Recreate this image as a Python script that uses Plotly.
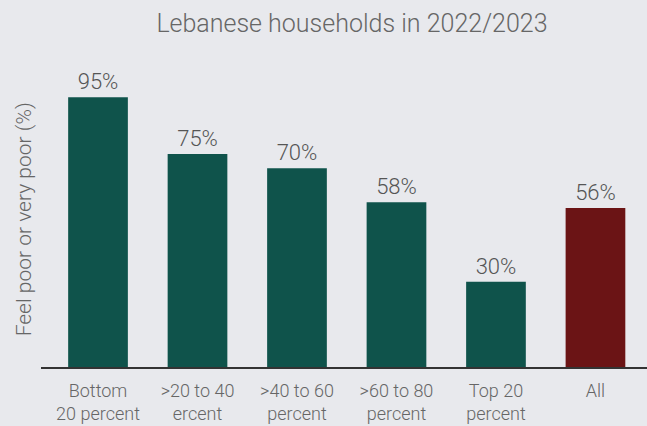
import plotly.graph_objects as go

# data
categories = ["Bottom<br>20 percent", ">20 to 40<br>ercent", ">40 to 60<br>percent",
              ">60 to 80<br>percent", "Top 20<br>percent", "All"]
values = [95, 75, 70, 58, 30, 56]
bar_colors = ["#0f534b"] * 5 + ["#6b1415"]

fig = go.Figure(go.Bar(
    x=list(range(len(categories))),
    y=values,
    marker=dict(color=bar_colors, line=dict(width=0)),
    text=[f"{v}%" for v in values],
    textposition="outside",
    cliponaxis=False,
    textfont=dict(size=22, color="#555555", weight=300),
    width=0.6,
))

fig.update_layout(
    width=647, height=426,
    paper_bgcolor="#e8e9ed", plot_bgcolor="#e8e9ed",
    margin=dict(l=41, r=0, t=83, b=59),
    font=dict(family="Roboto", color="#666666"),
    showlegend=False,
    title=dict(text="Lebanese households in 2022/2023", x=0.544, xanchor="center",
               y=0.945, yanchor="middle",
               font=dict(size=25, color="#666666", weight=300)),
    annotations=[dict(text="Feel poor or very poor (%)", textangle=-90,
                      xref="paper", yref="paper", x=-0.028, y=0.52,
                      xanchor="center", yanchor="middle", showarrow=False,
                      font=dict(size=21, color="#666666", weight=300))],
)

fig.update_xaxes(
    tickmode="array", tickvals=list(range(len(categories))), ticktext=categories,
    range=[-0.573, 5.518], showgrid=False, zeroline=False,
    showline=True, linecolor="#333333", linewidth=2,
    ticks="outside", ticklen=6, tickcolor="rgba(0,0,0,0)",
    tickfont=dict(size=18, color="#666666", weight=300),
)
fig.update_yaxes(range=[0, 100], showticklabels=False, showgrid=False, zeroline=False)

fig.write_html("out.html", config={"displayModeBar": False},
               post_script="document.body.style.margin='0';")
